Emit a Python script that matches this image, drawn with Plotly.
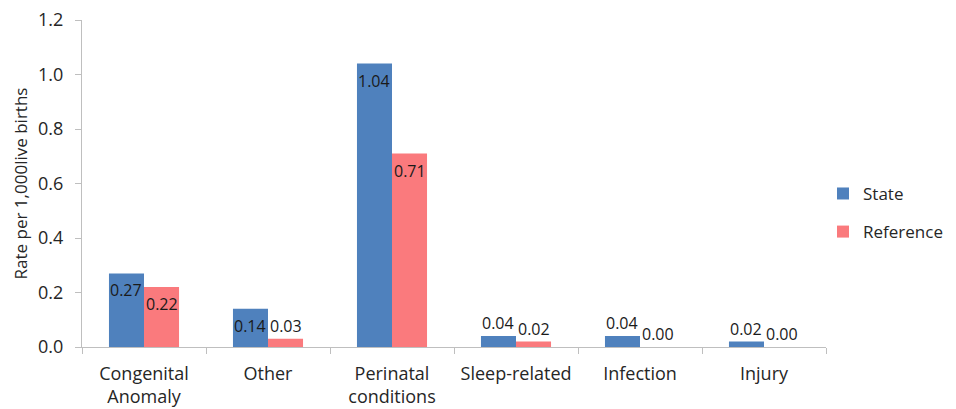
import plotly.graph_objects as go

categories = ["Congenital<br>Anomaly", "Other", "Perinatal<br>conditions", "Sleep-related", "Infection", "Injury"]
state_values = [0.27, 0.14, 1.04, 0.04, 0.04, 0.02]
reference_values = [0.22, 0.03, 0.71, 0.02, 0.00, 0.00]
series_names = ["State", "Reference"]
y_ticks = [0.0, 0.2, 0.4, 0.6, 0.8, 1.0, 1.2]

colors = ["#4F81BD", "#FA7A7D"]
FONT = "Open Sans, Noto Sans, sans-serif"
TXT = "#262626"

# page body has an 8px margin, so the figure is sized/offset accordingly
W, H = 948, 401
L, R, T, B = 74, 130, 12, 62
BARGAP = 0.435

fig = go.Figure()
for i, (name, vals, col) in enumerate(zip(series_names, [state_values, reference_values], colors)):
    fig.add_trace(go.Bar(
        name=name, x=categories, y=vals, legendgroup=f"g{i}",
        marker=dict(color=col, line=dict(width=0)),
    ))

# data labels, placed from the data values
plot_w = W - L - R
bar_px = plot_w / len(categories) * (1 - BARGAP) / 2
for i, vals in enumerate([state_values, reference_values]):
    shift = (i - 0.5) * bar_px
    for cat, v in zip(categories, vals):
        inside = v > 0.1
        fig.add_annotation(
            x=cat, y=v, xref="x", yref="y", text=f"{v:.2f}", showarrow=False,
            xshift=shift, yshift=(-17 if inside else 0),
            yanchor=("middle" if inside else "bottom"), xanchor="center",
            font=dict(family=FONT, size=16, color="#1a1a1a"),
        )

fig.update_layout(
    width=W, height=H,
    margin=dict(l=L, r=R, t=T, b=B, autoexpand=False),
    paper_bgcolor="white", plot_bgcolor="white",
    barmode="group", bargap=BARGAP, bargroupgap=0,
    font=dict(family=FONT, size=16, color=TXT),
    showlegend=True,
    legend=dict(x=0.996, y=0.41, xanchor="left", yanchor="middle",
                font=dict(family=FONT, size=17, color=TXT),
                tracegroupgap=13, itemwidth=30, bgcolor="rgba(0,0,0,0)"),
    xaxis=dict(showline=True, linecolor="#BFBFBF", linewidth=1, automargin=False,
               ticks="outside", tickson="boundaries", ticklen=6, tickcolor="#BFBFBF",
               ticklabelstandoff=10, ticklabeloverflow="allow",
               showgrid=False, tickfont=dict(family=FONT, size=18, color=TXT)),
    yaxis=dict(range=[0, 1.2], tickvals=y_ticks, ticktext=[f"{t:.1f}" for t in y_ticks],
               showline=True, linecolor="#BFBFBF", linewidth=1, automargin=False,
               ticks="outside", ticklen=6, tickcolor="#BFBFBF", ticklabelstandoff=8,
               ticklabeloverflow="allow",
               showgrid=False, zeroline=False,
               tickfont=dict(family=FONT, size=18, color=TXT),
               title=dict(text="Rate per 1,000live births", standoff=6,
                          font=dict(family=FONT, size=17, color=TXT))),
)

fig.write_html("out.html")
